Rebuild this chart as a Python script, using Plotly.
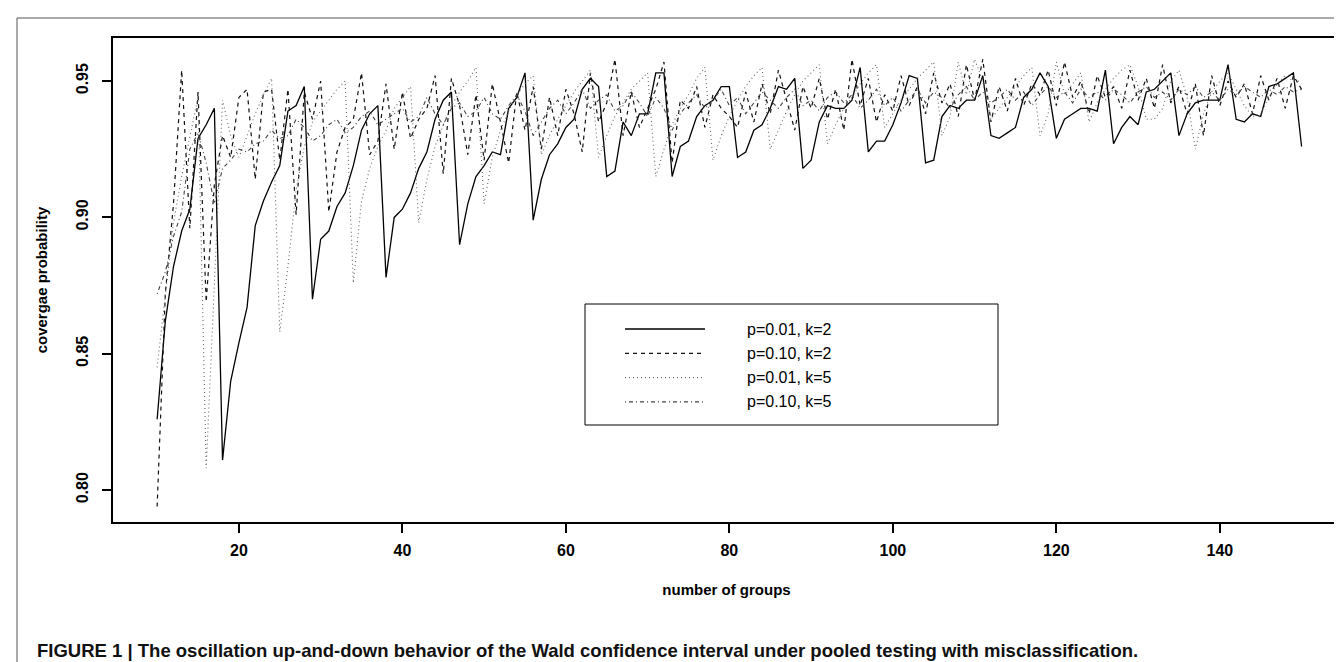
import plotly.graph_objects as go

x_groups = list(range(10, 151))

p01_k2 = [0.826, 0.862, 0.882, 0.895, 0.903, 0.929, 0.934, 0.940, 0.811, 0.840,
          0.854, 0.867, 0.897, 0.906, 0.913, 0.919, 0.939, 0.941, 0.948, 0.870,
          0.892, 0.895, 0.904, 0.909, 0.919, 0.932, 0.938, 0.941, 0.878, 0.900,
          0.903, 0.909, 0.918, 0.924, 0.936, 0.943, 0.946, 0.890, 0.905, 0.915,
          0.919, 0.924, 0.923, 0.940, 0.944, 0.953, 0.899, 0.914, 0.923, 0.927,
          0.933, 0.936, 0.947, 0.951, 0.948, 0.915, 0.917, 0.935, 0.930, 0.938,
          0.938, 0.953, 0.953, 0.915, 0.926, 0.928, 0.937, 0.941, 0.943, 0.948,
          0.948, 0.922, 0.924, 0.932, 0.934, 0.940, 0.948, 0.947, 0.951, 0.918,
          0.921, 0.935, 0.941, 0.940, 0.940, 0.943, 0.955, 0.924, 0.928, 0.928,
          0.934, 0.942, 0.952, 0.951, 0.920, 0.921, 0.937, 0.941, 0.940, 0.943,
          0.943, 0.952, 0.930, 0.929, 0.931, 0.933, 0.944, 0.947, 0.953, 0.948,
          0.929, 0.936, 0.938, 0.940, 0.940, 0.939, 0.954, 0.927, 0.933, 0.937,
          0.934, 0.946, 0.947, 0.950, 0.953, 0.930, 0.938, 0.942, 0.943, 0.943,
          0.943, 0.956, 0.936, 0.935, 0.938, 0.937, 0.948, 0.949, 0.951, 0.953,
          0.926]

p10_k2 = [0.794, 0.872, 0.905, 0.954, 0.896, 0.946, 0.869, 0.912, 0.930, 0.922,
          0.944, 0.947, 0.914, 0.946, 0.947, 0.921, 0.947, 0.901, 0.946, 0.936,
          0.950, 0.902, 0.924, 0.933, 0.936, 0.953, 0.923, 0.928, 0.949, 0.925,
          0.946, 0.929, 0.936, 0.940, 0.952, 0.916, 0.951, 0.941, 0.923, 0.945,
          0.921, 0.949, 0.935, 0.920, 0.946, 0.932, 0.948, 0.925, 0.944, 0.930,
          0.947, 0.938, 0.924, 0.953, 0.935, 0.942, 0.958, 0.930, 0.946, 0.933,
          0.940, 0.947, 0.957, 0.920, 0.943, 0.940, 0.948, 0.933, 0.945, 0.940,
          0.937, 0.933, 0.946, 0.935, 0.949, 0.938, 0.954, 0.943, 0.932, 0.948,
          0.940, 0.951, 0.936, 0.947, 0.932, 0.958, 0.941, 0.951, 0.935, 0.945,
          0.939, 0.952, 0.941, 0.948, 0.938, 0.953, 0.942, 0.949, 0.937, 0.956,
          0.943, 0.958, 0.935, 0.948, 0.939, 0.951, 0.941, 0.949, 0.945, 0.954,
          0.941, 0.957, 0.944, 0.950, 0.938, 0.952, 0.944, 0.948, 0.940, 0.954,
          0.943, 0.951, 0.940, 0.956, 0.942, 0.948, 0.938, 0.949, 0.930, 0.952,
          0.941, 0.950, 0.944, 0.949, 0.938, 0.952, 0.943, 0.951, 0.940, 0.952,
          0.947]

p01_k5 = [0.845, 0.872, 0.898, 0.915, 0.930, 0.944, 0.808, 0.876, 0.943, 0.930,
          0.922, 0.930, 0.938, 0.945, 0.951, 0.858, 0.882, 0.910, 0.926, 0.935,
          0.939, 0.943, 0.947, 0.950, 0.876, 0.906, 0.918, 0.926, 0.932, 0.940,
          0.944, 0.948, 0.898, 0.914, 0.926, 0.934, 0.941, 0.946, 0.950, 0.955,
          0.905, 0.922, 0.932, 0.939, 0.945, 0.949, 0.952, 0.923, 0.930, 0.936,
          0.941, 0.946, 0.950, 0.954, 0.922, 0.930, 0.937, 0.942, 0.947, 0.950,
          0.953, 0.915, 0.925, 0.934, 0.940, 0.945, 0.951, 0.955, 0.921, 0.930,
          0.937, 0.943, 0.948, 0.952, 0.955, 0.925, 0.932, 0.939, 0.945, 0.950,
          0.953, 0.956, 0.927, 0.934, 0.940, 0.944, 0.949, 0.953, 0.956, 0.933,
          0.938, 0.943, 0.947, 0.951, 0.954, 0.957, 0.930, 0.937, 0.957, 0.945,
          0.958, 0.950, 0.936, 0.940, 0.944, 0.948, 0.952, 0.955, 0.930, 0.938,
          0.957, 0.945, 0.949, 0.953, 0.935, 0.942, 0.947, 0.951, 0.954, 0.956,
          0.948, 0.936, 0.936, 0.940, 0.950, 0.954, 0.944, 0.925, 0.938, 0.946,
          0.950, 0.953, 0.947, 0.941, 0.937, 0.938, 0.944, 0.949, 0.952, 0.950,
          0.950]

p10_k5 = [0.872, 0.880, 0.893, 0.902, 0.925, 0.931, 0.920, 0.905, 0.918, 0.921,
          0.925, 0.924, 0.927, 0.928, 0.932, 0.929, 0.930, 0.936, 0.933, 0.928,
          0.930, 0.934, 0.936, 0.931, 0.933, 0.937, 0.939, 0.934, 0.936, 0.938,
          0.940, 0.935, 0.937, 0.944, 0.938, 0.934, 0.940, 0.942, 0.937, 0.939,
          0.944, 0.938, 0.936, 0.941, 0.945, 0.939, 0.930, 0.935, 0.940, 0.943,
          0.938, 0.942, 0.947, 0.940, 0.943, 0.945, 0.939, 0.941, 0.946, 0.942,
          0.937, 0.944, 0.940, 0.932, 0.938, 0.942, 0.945, 0.940, 0.943, 0.947,
          0.941, 0.944, 0.938, 0.942, 0.946, 0.943, 0.940, 0.944, 0.947, 0.941,
          0.943, 0.939, 0.944, 0.946, 0.942, 0.945, 0.940, 0.943, 0.947, 0.941,
          0.944, 0.939, 0.943, 0.947, 0.942, 0.946, 0.944, 0.940, 0.945, 0.948,
          0.943, 0.946, 0.942, 0.944, 0.947, 0.943, 0.946, 0.941, 0.945, 0.948,
          0.944, 0.946, 0.942, 0.947, 0.944, 0.946, 0.943, 0.947, 0.945, 0.942,
          0.946, 0.948, 0.944, 0.946, 0.943, 0.947, 0.945, 0.948, 0.944, 0.946,
          0.943, 0.947, 0.945, 0.948, 0.946, 0.944, 0.947, 0.945, 0.948, 0.946,
          0.947]

series_names = ["p=0.01, k=2", "p=0.10, k=2", "p=0.01, k=5", "p=0.10, k=5"]
x_ticks = [20, 40, 60, 80, 100, 120, 140]
y_ticks = [0.80, 0.85, 0.90, 0.95]
y_tick_text = ["0.80", "0.85", "0.90", "0.95"]
caption = ("FIGURE 1 | The oscillation up-and-down behavior of the Wald confidence "
           "interval under pooled testing with misclassification.")

styles = [
    dict(color="#000000", width=1.3, dash="solid"),
    dict(color="#111111", width=1.2, dash="4px,4px"),
    dict(color="#666666", width=1.1, dash="1px,3px"),
    dict(color="#444444", width=1.1, dash="1px,3px,4px,3px"),
]
data = [p01_k2, p10_k2, p01_k5, p10_k5]

fig = go.Figure()
for name, ys, st in zip(series_names, data, styles):
    fig.add_trace(go.Scatter(x=x_groups, y=ys, mode="lines", name=name,
                             line=st, showlegend=False))

W, H = 1342, 662
L, R, T, B = 105, 10, 30, 148
pw, ph = W - L - R, H - T - B


def px(xp):
    return (xp - L) / pw


def py(yp):
    return (H - B - yp) / ph


FONT = "Arial, Liberation Sans, Helvetica, sans-serif"
shapes = []
annotations = []
# outer figure frame (journal panel)
shapes.append(dict(type="line", xref="paper", yref="paper", x0=px(9), x1=px(1345),
                   y0=py(10), y1=py(10), line=dict(color="#555555", width=1)))
shapes.append(dict(type="line", xref="paper", yref="paper", x0=px(9), x1=px(9),
                   y0=py(10), y1=py(665), line=dict(color="#555555", width=1)))
# legend box
shapes.append(dict(type="rect", xref="paper", yref="paper", x0=px(577), x1=px(990),
                   y0=py(417), y1=py(296), line=dict(color="#000000", width=1),
                   fillcolor="white", layer="above"))
rows = [321, 345.3, 369.6, 393.9]
for name, st, ry in zip(series_names, styles, rows):
    shapes.append(dict(type="line", xref="paper", yref="paper", x0=px(617), x1=px(697),
                       y0=py(ry), y1=py(ry), layer="above",
                       line=dict(color=st["color"], width=st["width"], dash=st["dash"])))
    annotations.append(dict(text=name, xref="paper", yref="paper", x=px(737), y=py(ry),
                            xanchor="left", yanchor="middle", showarrow=False,
                            font=dict(family=FONT, size=16, color="#000")))

annotations.append(dict(text="<b>" + caption + "</b>", xref="paper", yref="paper",
                        x=px(27), y=py(642), xanchor="left", yanchor="middle",
                        showarrow=False,
                        font=dict(family=FONT, size=18.5, color="#111")))

fig.update_layout(
    width=W, height=H,
    margin=dict(l=L, r=R, t=T, b=B, autoexpand=False),
    paper_bgcolor="white", plot_bgcolor="white",
    shapes=shapes, annotations=annotations,
    font=dict(family=FONT, color="#000"),
)
fig.update_xaxes(range=[4.6, 154.7], tickvals=x_ticks, ticks="outside", ticklen=9,
                 tickwidth=1.5, tickcolor="#000", showgrid=False, zeroline=False,
                 showline=True, linecolor="#000", linewidth=2, mirror=True,
                 ticklabelstandoff=4,
                 tickfont=dict(family=FONT, size=16, weight="bold"),
                 title=dict(text="number of groups", standoff=26,
                            font=dict(family=FONT, size=15, weight="bold")))
fig.update_yaxes(range=[0.7883, 0.9658], tickvals=y_ticks, ticktext=y_tick_text,
                 ticks="outside", ticklen=9, tickwidth=1.5, tickcolor="#000",
                 tickangle=-90, showgrid=False, zeroline=False,
                 showline=True, linecolor="#000", linewidth=2, mirror=True,
                 ticklabelstandoff=8,
                 tickfont=dict(family=FONT, size=16, weight="bold"),
                 title=dict(text="covergae probability", standoff=22,
                            font=dict(family=FONT, size=15, weight="bold")))

fig.write_html("out.html")
